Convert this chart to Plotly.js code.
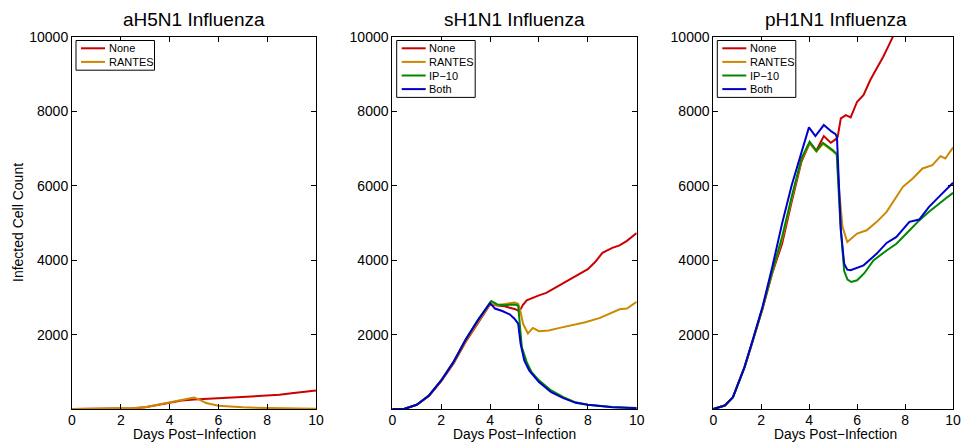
<!DOCTYPE html>
<html><head><meta charset="utf-8">
<script src="https://cdn.plot.ly/plotly-3.0.1.min.js"></script>
<style>body{margin:0;padding:0;background:#fff}#chart{width:965px;height:442px}</style>
</head><body><div id="chart"></div>
<script>
// Panel titles, series names, ticks
const panelTitles = ["aH5N1 Influenza", "sH1N1 Influenza", "pH1N1 Influenza"];
const seriesNames = ["None", "RANTES", "IP\u221210", "Both"];
const xTicks = [0, 2, 4, 6, 8, 10];
const xTickText = ["0", "2", "4", "6", "8", "10"];
const yTicks = [2000, 4000, 6000, 8000, 10000];
const yTickText = ["2000", "4000", "6000", "8000", "10000"];

// Panel A: aH5N1
const aNoneX = [0,1,2,2.5,3,3.5,4,4.5,5,5.5,6,6.5,7,7.5,8,8.5,9,9.5,10];
const aNoneY = [0,0,5,20,50,110,185,230,255,275,300,315,335,350,365,380,425,460,500];
const aRantesX = [0,1,2,2.5,3,3.5,4,4.5,5,5.2,5.5,6,6.5,7,8,9,10];
const aRantesY = [0,0,5,20,50,110,185,240,310,260,160,90,60,45,25,10,5];

// Panel B: sH1N1
const bNoneX = [0,0.5,1,1.5,2,2.5,3,3.5,4,4.3,4.6,4.8,5.0,5.2,5.35,5.5,5.8,6.0,6.3,6.6,7.0,7.3,7.7,8.0,8.3,8.6,9.0,9.3,9.6,10];
const bNoneY = [0,5,110,350,740,1215,1800,2290,2810,2780,2760,2720,2690,2630,2800,2920,3010,3055,3120,3230,3380,3480,3640,3760,3950,4200,4330,4400,4520,4730];
const bRantesX = [0,0.5,1,1.5,2,2.5,3,3.5,4,4.3,4.6,4.8,5.0,5.15,5.25,5.35,5.55,5.75,6.0,6.4,6.85,7.4,7.9,8.5,9.0,9.3,9.6,10];
const bRantesY = [0,5,112,355,760,1240,1830,2330,2830,2790,2810,2840,2860,2830,2600,2290,2030,2180,2090,2110,2180,2250,2330,2450,2600,2680,2700,2880];
const bIp10X = [0,0.5,1,1.5,2,2.5,3,3.5,4,4.05,4.3,4.6,4.8,5.0,5.15,5.2,5.3,5.5,5.7,6.0,6.5,7.0,7.5,8,9,10];
const bIp10Y = [0,5,115,365,770,1265,1870,2390,2860,2900,2810,2790,2800,2810,2780,2470,1660,1260,990,770,500,320,180,115,55,25];
const bBothX = [0,0.5,1,1.5,2,2.5,3,3.5,4,4.2,4.5,4.8,5.0,5.15,5.25,5.4,5.6,6.0,6.5,7.0,7.5,8,9,10];
const bBothY = [0,5,113,363,767,1260,1862,2382,2849,2700,2634,2544,2427,2292,1754,1305,1036,722,453,292,166,113,50,23];

// Panel C: pH1N1
const cNoneX = [0,0.48,0.82,1.3,1.64,2.05,2.46,2.87,3.27,3.68,4.02,4.3,4.61,4.9,5.1,5.19,5.32,5.53,5.73,6.0,6.27,6.55,6.82,7.09,7.36,7.6,8.0];
const cNoneY = [0,94,318,1110,1810,2680,3650,4446,5568,6650,7150,6950,7337,7157,7247,7318,7811,7900,7838,8260,8440,8843,9157,9471,9830,10150,10600];
const cRantesX = [0,0.48,0.82,1.3,1.64,2.05,2.46,2.87,3.27,3.68,4.02,4.3,4.57,4.8,4.98,5.15,5.25,5.39,5.59,6.0,6.4,6.82,7.23,7.5,7.91,8.32,8.73,9.14,9.48,9.68,10];
const cRantesY = [0,94,318,1120,1830,2700,3680,4560,5650,6700,7150,6920,7130,7020,6940,6850,5880,4895,4490,4716,4805,5030,5300,5568,5973,6197,6466,6556,6798,6735,7030];
const cIp10X = [0,0.48,0.82,1.3,1.64,2.05,2.46,2.87,3.27,3.68,4.02,4.3,4.57,4.8,4.98,5.15,5.3,5.46,5.6,5.76,6.0,6.3,6.68,7.23,7.64,8.18,8.59,9.0,9.41,9.68,10];
const cIp10Y = [0,94,318,1120,1830,2700,3700,4626,5703,6735,7183,6940,7157,7050,6960,6850,5000,3710,3480,3414,3460,3650,3993,4262,4441,4800,5070,5300,5524,5650,5810];
const cBothX = [0,0.48,0.82,1.3,1.64,2.05,2.46,2.87,3.27,3.68,3.99,4.26,4.61,4.94,5.1,5.16,5.32,5.46,5.59,5.73,6.0,6.27,6.82,7.23,7.64,8.18,8.59,9.0,9.41,9.68,10];
const cBothY = [0,94,318,1126,1844,2741,3818,4985,6017,6870,7570,7337,7633,7454,7390,7300,4805,3907,3745,3730,3790,3862,4177,4464,4626,5030,5093,5434,5703,5883,6080];

const colors = ["#cc0000", "#cc8800", "#008800", "#0000cc"];
const FONT = "Liberation Sans, Arial, Helvetica, sans-serif";

function tr(x, y, idx, ax) {
  return {x: x, y: y, type: "scatter", mode: "lines", name: seriesNames[idx],
    line: {color: colors[idx], width: 2}, xaxis: "x" + ax, yaxis: "y" + ax,
    showlegend: false};
}
const data = [
  tr(aNoneX, aNoneY, 0, ""), tr(aRantesX, aRantesY, 1, ""),
  tr(bNoneX, bNoneY, 0, "2"), tr(bRantesX, bRantesY, 1, "2"),
  tr(bIp10X, bIp10Y, 2, "2"), tr(bBothX, bBothY, 3, "2"),
  tr(cNoneX, cNoneY, 0, "3"), tr(cRantesX, cRantesY, 1, "3"),
  tr(cIp10X, cIp10Y, 2, "3"), tr(cBothX, cBothY, 3, "3")
];

const W = 965, H = 442, MR = 12;
const PW = W - MR;
const xd = [[72, 316], [392.3, 636.7], [713.3, 957.7]];
const yDom = [(H - 409) / H, (H - 37) / H];

function xa(i) {
  return {domain: [xd[i][0] / PW, xd[i][1] / PW], range: [0, 10], tickvals: xTicks, ticktext: xTickText,
    ticks: "inside", ticklen: 5, tickcolor: "#000", showline: true, linecolor: "#000",
    linewidth: 1, mirror: "ticks", showgrid: false, zeroline: false, fixedrange: true,
    ticklabeloverflow: "allow", ticklabelstandoff: -2,
    tickfont: {family: FONT, size: 14, color: "#000"},
    anchor: i === 0 ? "y" : "y" + (i + 1)};
}
function ya(i) {
  return {domain: yDom, range: [0, 10000], tickvals: yTicks, ticktext: yTickText,
    ticks: "inside", ticklen: 5, tickcolor: "#000", showline: true, linecolor: "#000",
    linewidth: 1, mirror: "ticks", showgrid: false, zeroline: false, fixedrange: true,
    ticklabeloverflow: "allow",
    tickfont: {family: FONT, size: 14, color: "#000"},
    anchor: i === 0 ? "x" : "x" + (i + 1)};
}

const annotations = [];
const shapes = [];
function px2x(px) { return px / PW; }
function py2y(py) { return 1 - py / H; }

panelTitles.forEach((t, i) => {
  const cx = (xd[i][0] + xd[i][1]) / 2;
  annotations.push({text: t, xref: "paper", yref: "paper", x: px2x(cx), y: py2y(19.5),
    xanchor: "center", yanchor: "middle", showarrow: false,
    font: {family: FONT, size: 19, color: "#000"}});
  annotations.push({text: "Days Post\u2212Infection", xref: "paper", yref: "paper",
    x: px2x(cx), y: py2y(442.5), xanchor: "center", yanchor: "bottom", showarrow: false,
    font: {family: FONT, size: 13.8, color: "#000"}, borderpad: 0});
});
annotations.push({text: "Infected Cell Count", xref: "paper", yref: "paper",
  x: px2x(18), y: py2y(223), xanchor: "center", yanchor: "middle", textangle: -90,
  showarrow: false, font: {family: FONT, size: 14, color: "#000"}});

// Legends (one per panel), drawn as a boxed key
const legendSeries = [[0, 1], [0, 1, 2, 3], [0, 1, 2, 3]];
const legendLeft = [76, 396.7, 717.3];
legendSeries.forEach((list, i) => {
  const L = legendLeft[i], T = 40.5, rowH = 13.6;
  const Hh = list.length * rowH + 2.5;
  shapes.push({type: "rect", xref: "paper", yref: "paper", x0: px2x(L), x1: px2x(L + 78.5),
    y0: py2y(T), y1: py2y(T + Hh), line: {color: "#000", width: 1}, fillcolor: "#fff", layer: "above"});
  list.forEach((s, k) => {
    const cy = T + 7.8 + k * rowH;
    shapes.push({type: "line", xref: "paper", yref: "paper", x0: px2x(L + 5), x1: px2x(L + 29),
      y0: py2y(cy), y1: py2y(cy), line: {color: colors[s], width: 2}, layer: "above"});
    annotations.push({text: seriesNames[s], xref: "paper", yref: "paper", x: px2x(L + 30.5),
      y: py2y(cy), xanchor: "left", yanchor: "middle", showarrow: false,
      font: {family: FONT, size: 11, color: "#000"}});
  });
});

const layout = {
  width: W, height: H, margin: {l: 0, r: MR, t: 0, b: 0},
  paper_bgcolor: "#fff", plot_bgcolor: "#fff", showlegend: false,
  xaxis: xa(0), yaxis: ya(0), xaxis2: xa(1), yaxis2: ya(1), xaxis3: xa(2), yaxis3: ya(2),
  annotations: annotations, shapes: shapes
};
Plotly.newPlot("chart", data, layout, {staticPlot: true, displayModeBar: false});
</script></body></html>
